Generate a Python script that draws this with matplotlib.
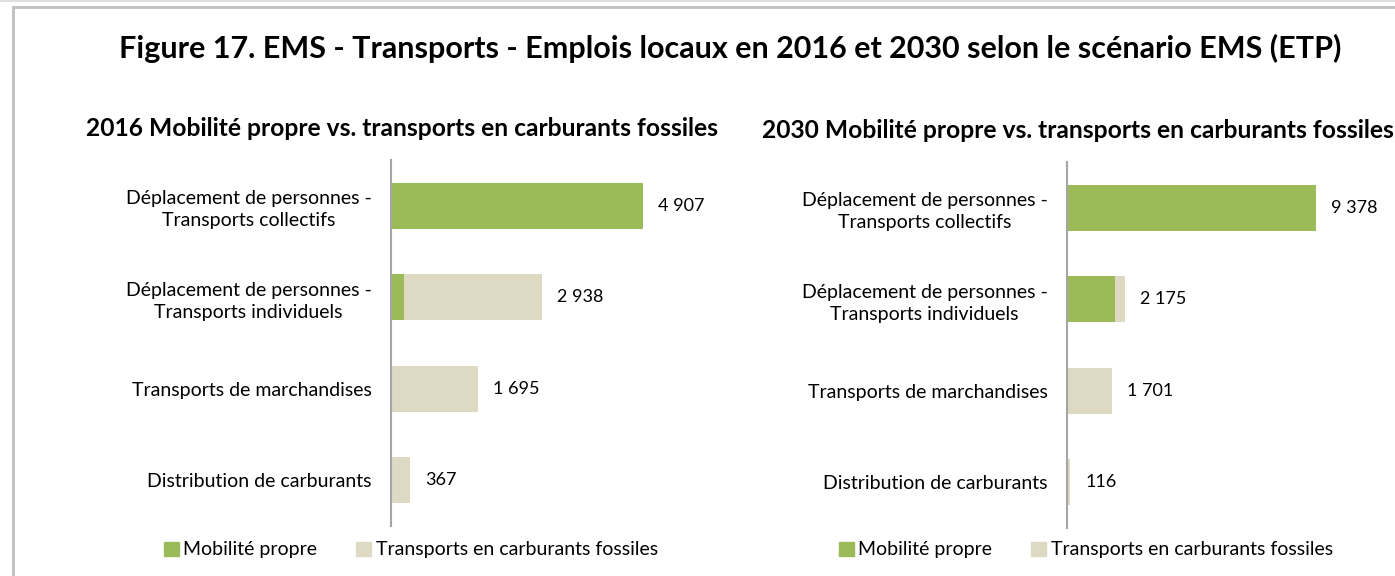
import matplotlib
matplotlib.use("Agg")
import matplotlib.pyplot as plt
from matplotlib.patches import Rectangle, Patch

plt.rcParams['font.family'] = ['Lato', 'DejaVu Sans']

categories = ["Déplacement de personnes -\nTransports collectifs",
              "Déplacement de personnes -\nTransports individuels",
              "Transports de marchandises",
              "Distribution de carburants"]

propre_2016 = [4907, 250, 10, 0]
fossile_2016 = [0, 2688, 1685, 367]
total_2016 = [4907, 2938, 1695, 367]

propre_2030 = [9378, 1810, 5, 0]
fossile_2030 = [0, 365, 1696, 116]
total_2030 = [9378, 2175, 1701, 116]

green = "#9BBB59"
beige = "#DDD9C3"

W, H = 1395, 576
fig = plt.figure(figsize=(W / 100, H / 100), dpi=100)

# cadre gris autour de la figure
fig.patches.append(Rectangle((13 / W, -0.1), 1.2, 1 - 7 / H + 0.1, transform=fig.transFigure,
                             fill=False, edgecolor="#BFBFBF", linewidth=2))
fig.add_artist(plt.Line2D([0, 1], [1 - 0.5 / H, 1 - 0.5 / H], transform=fig.transFigure,
                          color="#E0E0E0", linewidth=1.5))

fig.text(730 / W, 1 - 48 / H, "Figure 17. EMS - Transports - Emplois locaux en 2016 et 2030 selon le scénario EMS (ETP)",
         ha="center", va="center", fontsize=22, fontweight="bold")


def panel(left_px, top_px, xmax, title, title_x, title_y, propre, fossile, total):
    ax = fig.add_axes([left_px / W, (H - top_px - 366) / H, 300 / W, 366 / H])
    y = range(len(categories))
    ax.barh(y, propre, height=0.5, color=green)
    ax.barh(y, fossile, left=propre, height=0.5, color=beige)
    ax.set_ylim(3.5, -0.5)
    ax.set_xlim(0, xmax)
    ax.set_yticks(list(y))
    ax.set_yticklabels(categories, fontsize=14, multialignment="center", linespacing=1.35)
    ax.tick_params(axis="y", length=0, pad=14)
    ax.set_xticks([])
    for s in ["top", "right", "bottom"]:
        ax.spines[s].set_visible(False)
    ax.spines["left"].set_color("#A6A6A6")
    ax.spines["left"].set_linewidth(1.5)
    for i, v in enumerate(total):
        ax.text(v + xmax * 15 / 300, i, f"{v:,}".replace(",", " "), va="center", ha="left", fontsize=13)
    fig.text(title_x / W, 1 - title_y / H, title, ha="left", va="center", fontsize=17.7, fontweight="bold")
    return ax


ax1 = panel(391, 160, 5840, "2016 Mobilité propre vs. transports en carburants fossiles", 86, 128,
            propre_2016, fossile_2016, total_2016)
ax2 = panel(1067, 162, 11300, "2030 Mobilité propre vs. transports en carburants fossiles", 762, 131,
            propre_2030, fossile_2030, total_2030)

handles = [Patch(color=green, label="Mobilité propre"),
           Patch(color=beige, label="Transports en carburants fossiles")]
for cx in [411, 1086]:
    fig.legend(handles=handles, loc="center", bbox_to_anchor=(cx / W, 1 - 550 / H), ncol=2,
               frameon=False, fontsize=14, handlelength=0.75, handleheight=0.75,
               handletextpad=0.25, columnspacing=2.0)

fig.savefig("out.png", dpi=100)
